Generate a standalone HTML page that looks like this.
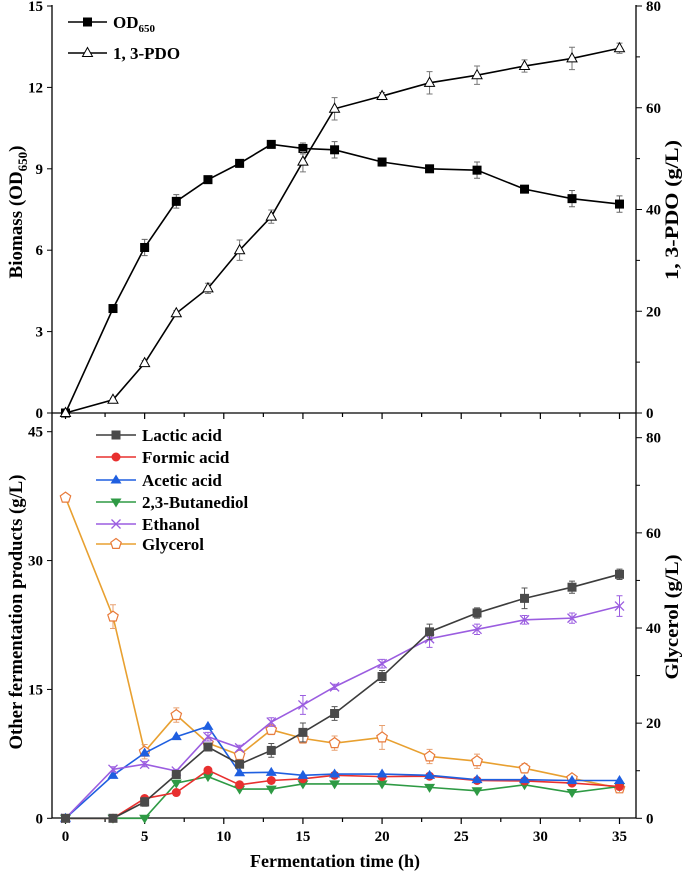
<!DOCTYPE html>
<html><head><meta charset="utf-8"><style>
body{margin:0;background:#fff}
svg{display:block;font-family:"Liberation Serif",serif;font-weight:bold}
</style></head><body>
<svg id="c" width="685" height="873" viewBox="0 0 685 873"></svg>
<script>
const times=[0,3,5,7,9,11,13,15,17,20,23,26,29,32,35];
const od=[0,3.85,6.1,7.8,8.6,9.2,9.9,9.75,9.7,9.25,9.0,8.95,8.25,7.9,7.7];
const odErr=[0,0.1,0.3,0.25,0.1,0.1,0.1,0.2,0.3,0.15,0.1,0.3,0.1,0.3,0.3];
const pdo=[0,2.6,9.8,19.6,24.5,32,38.6,49.4,59.8,62.3,64.9,66.4,68.2,69.7,71.7];
const pdoErr=[0,0.3,0.5,0.5,1,2,1.3,2,2.2,0.7,2.2,1.8,1.2,2.2,1];
const lactic=[0,0,1.9,5.1,8.3,6.3,7.9,10.0,12.2,16.5,21.7,23.9,25.6,26.9,28.4];
const formic=[0,0,2.3,3.0,5.6,3.9,4.4,4.6,5.0,4.85,4.9,4.4,4.35,4.1,3.7];
const acetic=[0,5.0,7.6,9.5,10.7,5.3,5.35,5.0,5.15,5.15,5.0,4.5,4.5,4.4,4.4];
const butanediol=[0,0,0,4.1,4.85,3.4,3.4,4.0,4.0,4.0,3.6,3.2,3.9,3.0,3.7];
const ethanol=[0,5.7,6.3,5.5,9.5,8.2,11.2,13.2,15.3,18.0,20.9,22.0,23.1,23.3,24.7];
const glycerol=[67.4,42.4,14.0,21.7,15.8,13.3,18.6,16.8,15.8,17.0,13.0,12.0,10.5,8.4,6.3];
const lacticErr=[0,0,0.5,0.3,0.4,0.3,0.8,1.1,0.8,0.7,0.9,0.6,1.2,0.7,0.6];
const ethanolErr=[0,0.3,0.3,0.2,0.5,0.3,0.5,1.1,0.3,0.5,1.0,0.6,0.5,0.6,1.2];
const glycerolErr=[0,2.5,1.5,1.5,1,1,1,1,1.5,2.5,1.5,1.5,1,0.8,0.5];
const xTicks=[0,5,10,15,20,25,30,35];
const odTicks=[0,3,6,9,12,15];
const pdoTicks=[0,20,40,60,80];
const otherTicks=[0,15,30,45];
const glyTicks=[0,20,40,60,80];

const NS="http://www.w3.org/2000/svg";
const svg=document.getElementById('c');
function el(t,a,p){const e=document.createElementNS(NS,t);for(const k in a)e.setAttribute(k,a[k]);(p||svg).appendChild(e);return e;}
const X0=52,X1=636;
const x=t=>65.5+t*(554/35);
const yOD=v=>413-v*(407/15);
const yPDO=v=>413-v*(407/80);
const yOther=v=>818.3-v*(386.6/45);
const yGly=v=>818.3-v*(380.6/80);

function axisLine(x1,y1,x2,y2,name){const l=el('line',{x1,y1,x2,y2,stroke:'#000','stroke-width':1.3});}
axisLine(X0,5,X0,818,'left-axis');axisLine(X1,5,X1,818,'right-axis');
axisLine(X0,413,X1,413,'top-x-axis');axisLine(X0,818,X1,818,'bottom-x-axis');
function txt(s,a,name){const t=el('text',a);t.textContent=s;return t;}
for(let t=0;t<=35;t+=2.5){
 const L=(t%5===0)?6:4;
 el('line',{x1:x(t),x2:x(t),y1:413,y2:413+L,stroke:'#000','stroke-width':1.2});
 el('line',{x1:x(t),x2:x(t),y1:818,y2:818+L,stroke:'#000','stroke-width':1.2});
}
xTicks.forEach(t=>txt(t,{x:x(t),y:841,'text-anchor':'middle','font-size':15},'x-tick-label'));
odTicks.forEach(v=>{el('line',{x1:X0-5,x2:X0,y1:yOD(v),y2:yOD(v),stroke:'#000'});txt(v,{x:43,y:yOD(v)+5,'text-anchor':'end','font-size':15},'biomass-tick-label');});
for(let v=0;v<=80;v+=10){el('line',{x1:X1,x2:X1+(v%20?4:6),y1:yPDO(v),y2:yPDO(v),stroke:'#000'});}
pdoTicks.forEach(v=>txt(v,{x:646,y:yPDO(v)+5,'font-size':15},'pdo-tick-label'));
otherTicks.forEach(v=>{el('line',{x1:X0-5,x2:X0,y1:yOther(v),y2:yOther(v),stroke:'#000'});txt(v,{x:43,y:yOther(v)+5,'text-anchor':'end','font-size':15},'other-tick-label');});
for(let v=0;v<=80;v+=10){el('line',{x1:X1,x2:X1+(v%20?4:6),y1:yGly(v),y2:yGly(v),stroke:'#000'});}
glyTicks.forEach(v=>txt(v,{x:646,y:yGly(v)+5,'font-size':15},'glycerol-tick-label'));
let t1=txt('',{transform:'translate(22,212) rotate(-90)','text-anchor':'middle','font-size':19},'biomass-axis-title');t1.innerHTML='Biomass (OD<tspan font-size="13" dy="5">650</tspan><tspan dy="-5">)</tspan>';
txt('1, 3-PDO (g/L)',{transform:'translate(678,210) rotate(-90)','text-anchor':'middle','font-size':19,textLength:140,lengthAdjust:'spacingAndGlyphs'},'pdo-axis-title');
txt('Other fermentation products (g/L)',{transform:'translate(22,612) rotate(-90)','text-anchor':'middle','font-size':19,textLength:275,lengthAdjust:'spacingAndGlyphs'},'other-products-axis-title');
txt('Glycerol (g/L)',{transform:'translate(678,617) rotate(-90)','text-anchor':'middle','font-size':19,textLength:125,lengthAdjust:'spacingAndGlyphs'},'glycerol-axis-title');
txt('Fermentation time (h)',{x:335,y:867,'text-anchor':'middle','font-size':18},'x-axis-title');

function marker(type,cx,cy,color,g){
 const s=4.5;
 if(type==='sq')return el('rect',{x:cx-s,y:cy-s,width:2*s,height:2*s,fill:color},g);
 if(type==='tri')return el('polygon',{points:`${cx},${cy-5.5} ${cx-5},${cy+3.5} ${cx+5},${cy+3.5}`,fill:'#fff',stroke:color,'stroke-width':1},g);
 if(type==='ftri')return el('polygon',{points:`${cx},${cy-5.5} ${cx-5.5},${cy+3.5} ${cx+5.5},${cy+3.5}`,fill:color},g);
 if(type==='dtri')return el('polygon',{points:`${cx},${cy+5.5} ${cx-5.5},${cy-3.5} ${cx+5.5},${cy-3.5}`,fill:color},g);
 if(type==='circ')return el('circle',{cx,cy,r:4.5,fill:color},g);
 if(type==='x'){el('path',{d:`M${cx-4.5},${cy-4.5}L${cx+4.5},${cy+4.5}M${cx-4.5},${cy+4.5}L${cx+4.5},${cy-4.5}`,stroke:color,'stroke-width':1.3},g);return;}
 if(type==='pent'){let p=[];for(let i=0;i<5;i++){const a=-Math.PI/2+i*2*Math.PI/5;p.push((cx+5.5*Math.cos(a)).toFixed(1)+','+(cy+5.5*Math.sin(a)).toFixed(1));}return el('polygon',{points:p.join(' '),fill:'#fff',stroke:color,'stroke-width':1.2},g);}
}
function series(name,vals,errs,yf,lineColor,mType,mColor,errColor){
 const g=el('g',{});
 el('polyline',{points:vals.map((v,i)=>x(times[i])+','+yf(v)).join(' '),fill:'none',stroke:lineColor,'stroke-width':1.6},g);
 if(errs)vals.forEach((v,i)=>{const e=errs[i];if(!e)return;const cx=x(times[i]);
  el('path',{d:`M${cx},${yf(v+e)}V${yf(v-e)}M${cx-3},${yf(v+e)}H${cx+3}M${cx-3},${yf(v-e)}H${cx+3}`,stroke:errColor||lineColor,'stroke-width':1,fill:'none'},g);});
 vals.forEach((v,i)=>marker(mType,x(times[i]),yf(v),mColor,g));
}
series('od650-series',od,odErr,yOD,'#000','sq','#000','#666');
series('pdo-series',pdo,pdoErr,yPDO,'#000','tri','#000','#777');
series('glycerol-series',glycerol,glycerolErr,yGly,'#e8a030','pent','#e87a3a','#e8a070');
series('butanediol-series',butanediol,null,yOther,'#2e9a44','dtri','#2e9a44');
series('formic-series',formic,null,yOther,'#e8302f','circ','#e8302f');
series('acetic-series',acetic,null,yOther,'#1f5fe0','ftri','#1f5fe0');
series('ethanol-series',ethanol,ethanolErr,yOther,'#9b5de0','x','#9b5de0');
series('lactic-series',lactic,lacticErr,yOther,'#3c3c3c','sq','#4a4a4a','#555');

function legend(name,y,lx1,lx2,color,mType,mColor,label,fs){
 const g=el('g',{});
 el('line',{x1:lx1,x2:lx2,y1:y,y2:y,stroke:color,'stroke-width':1.6},g);
 marker(mType,(lx1+lx2)/2,y,mColor,g);
 const t=el('text',{x:lx2+6,y:y+6,'font-size':fs},g);t.innerHTML=label;
}
legend('legend-od650',22,68,107,'#000','sq','#000','OD<tspan font-size="11" dy="4">650</tspan>',17);
legend('legend-pdo',53,68,107,'#000','tri','#000','1, 3-PDO',17);
const ly=[435,457,480,502,524,544];
legend('legend-lactic',ly[0],96,136,'#3c3c3c','sq','#4a4a4a','Lactic acid',17);
legend('legend-formic',ly[1],96,136,'#e8302f','circ','#e8302f','Formic acid',17);
legend('legend-acetic',ly[2],96,136,'#1f5fe0','ftri','#1f5fe0','Acetic acid',17);
legend('legend-butanediol',ly[3],96,136,'#2e9a44','dtri','#2e9a44','2,3-Butanediol',17);
legend('legend-ethanol',ly[4],96,136,'#9b5de0','x','#9b5de0','Ethanol',17);
legend('legend-glycerol',ly[5],96,136,'#e8a030','pent','#e87a3a','Glycerol',17);
</script>
</body></html>
